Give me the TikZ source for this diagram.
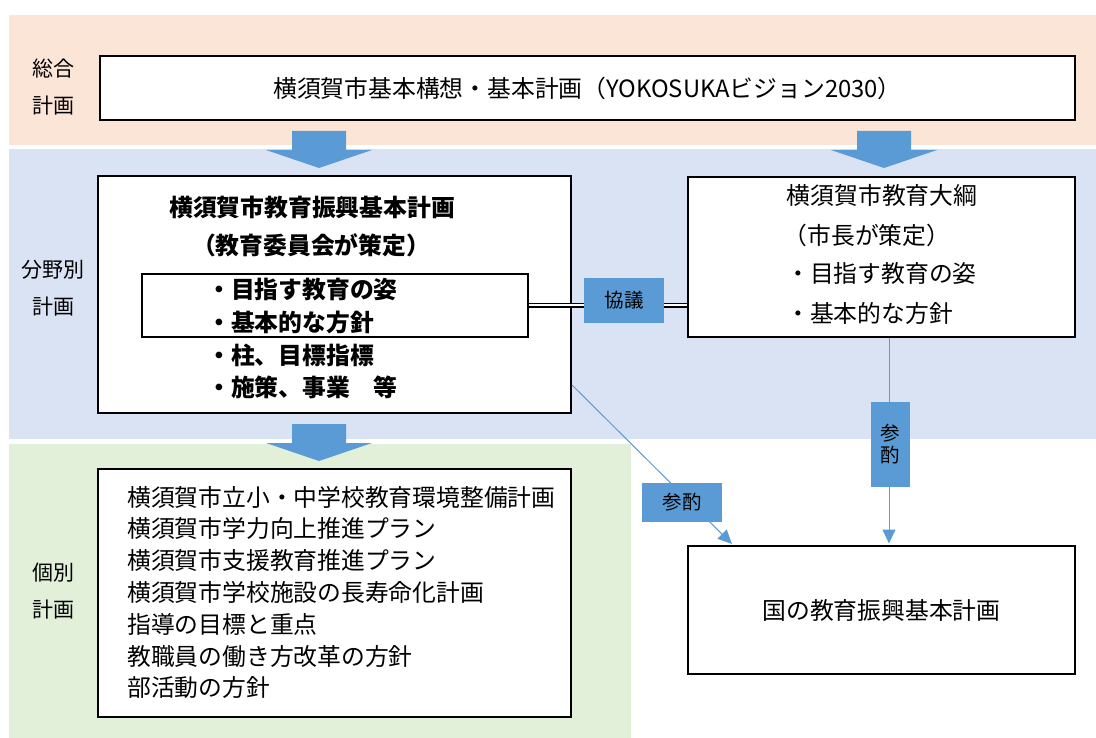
\documentclass[tikz,border=0pt]{standalone}
\usepackage{fontspec}
\setmainfont{Noto Sans CJK JP}
\usetikzlibrary{arrows.meta}

\definecolor{bandPink}{HTML}{FBE5D6}
\definecolor{bandBlue}{HTML}{DAE3F3}
\definecolor{bandGreen}{HTML}{E2F0D9}
\definecolor{planBlue}{HTML}{5B9BD5}

\newcommand{\bodyFont}{\fontsize{23.8}{28}\selectfont}
\newcommand{\sideFont}{\fontsize{21}{37}\selectfont}
\newcommand{\tagFont}{\fontsize{19.5}{22}\selectfont}

\begin{document}
\begin{tikzpicture}[x=1pt, y=-1pt,
    planBox/.style={draw=black, line width=2pt, fill=white, inner sep=0pt},
    bandLabel/.style={font=\sideFont, align=center, inner sep=0pt},
    tagBox/.style={fill=planBlue, font=\tagFont, inner sep=0pt, align=center},
    refArrow/.style={draw=planBlue, line width=1pt, shorten >=1.5pt,
      arrows={-Triangle[length=14pt, width=13pt]}},
    listLine/.style={font=\bodyFont, anchor=west, inner sep=0pt},
  ]
  \useasboundingbox (0,0) rectangle (1096,738);

  \newcommand{\drawBlockArrow}[2]{
    % #1 = centre x, #2 = top y
    \fill[planBlue] (#1-27,#2) -- (#1+27,#2) -- (#1+27,#2+19) -- (#1+53,#2+19)
      -- (#1,#2+37) -- (#1-53,#2+19) -- (#1-27,#2+19) -- cycle;
  }

  % bands
  \fill[bandPink]  (9,15)  rectangle (1096,145);
  \fill[bandBlue]  (9,149) rectangle (1096,439);
  \fill[bandGreen] (9,444) rectangle (631,738);

  \node[bandLabel] (sogoLabel) at (53,87) {総合\\計画};
  \node[bandLabel] (bunyaLabel) at (53,288) {分野別\\計画};
  \node[bandLabel] (kobetsuLabel) at (53,591) {個別\\計画};

  \drawBlockArrow{319}{131}
  \drawBlockArrow{884}{131}
  \drawBlockArrow{319}{424}

  % general plan
  \node[planBox, minimum width=975, minimum height=64, font=\bodyFont] (cityPlan) at (587.5,88)
    {横須賀市基本構想・基本計画（YOKOSUKAビジョン2030）};

  % education plan
  \node[planBox, minimum width=473, minimum height=237] (eduPlan) at (334.5,294.5) {};
  \node[font=\bodyFont\bfseries] (eduTitle) at (312,207) {横須賀市教育振興基本計画};
  \node[font=\bodyFont\bfseries] (eduBy) at (311,245) {（教育委員会が策定）};
  \node[draw=black, line width=1.5pt, minimum width=386, minimum height=63] (eduCore) at (335,305.5) {};
  \foreach \y/\txt in {290/・目指す教育の姿, 322/・基本的な方針, 355/・柱、目標指標, 387/・施策、事業　等}
    \node[listLine, font=\bodyFont\bfseries] at (207,\y) {\txt};

  % mayor's outline
  \node[planBox, minimum width=387, minimum height=160] (mayorPlan) at (881.5,257) {};
  \node[font=\bodyFont] (mayorTitle) at (882,195) {横須賀市教育大綱};
  \node[font=\bodyFont] (mayorBy) at (867,235) {（市長が策定）};
  \node[listLine] at (786,273) {・目指す教育の姿};
  \node[listLine] at (786,313) {・基本的な方針};

  % national plan
  \node[planBox, minimum width=387, minimum height=128, font=\bodyFont] (nationPlan) at (881.5,610)
    {国の教育振興基本計画};

  % individual plans
  \node[planBox, minimum width=473, minimum height=248] (eachPlan) at (334.5,593) {};
  \foreach \txt [count=\i from 0] in {横須賀市立小・中学校教育環境整備計画, 横須賀市学力向上推進プラン,
      横須賀市支援教育推進プラン, 横須賀市学校施設の長寿命化計画, 指導の目標と重点,
      教職員の働き方改革の方針, 部活動の方針}
    \node[listLine] at (127,497+31.8*\i) {\txt};

  % links
  \draw[double, double distance=2pt, line width=1.3pt] (eduCore.east) -- (eduCore.east -| mayorPlan.west);
  \node[tagBox, minimum width=80, minimum height=45] (kyogiTag) at (624,300.5) {協議};

  \draw[refArrow] ([yshift=29pt]eduPlan.south east) -- ([xshift=46pt]nationPlan.north west);
  \node[tagBox, minimum width=80, minimum height=39] (refTagA) at (682,502.5) {参酌};

  \draw[refArrow] ([xshift=7.5pt]mayorPlan.south) -- ([xshift=7.5pt]nationPlan.north);
  \node[tagBox, minimum width=39, minimum height=85] (refTagB) at (890.5,444.5) {参\\酌};

\end{tikzpicture}
\end{document}
